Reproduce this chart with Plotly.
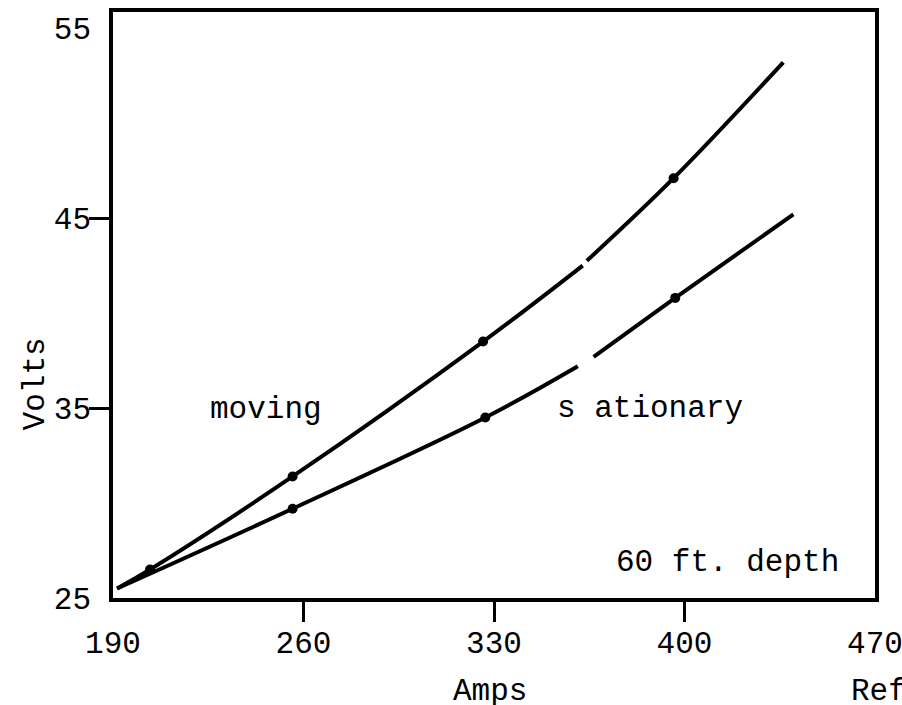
import plotly.graph_objects as go

# Arc voltage vs. current, 60 ft. depth
# (None marks a break in the drawn curve)
moving_amps = [191.5, 203.6, 256.0, 326.0, 362.6, None, 364.1, 396.0, 436.3]
moving_volts = [25.5, 26.5, 31.4, 38.5, 42.5, None, 42.75, 47.1, 53.2]

stationary_amps = [191.5, 256.0, 326.8, 360.8, None, 366.6, 396.6, 440.0]
stationary_volts = [25.5, 29.7, 34.5, 37.2, None, 37.7, 40.8, 45.2]

# measured points marked with dots
moving_pts_amps = [203.6, 256.0, 326.0, 396.0]
moving_pts_volts = [26.5, 31.4, 38.5, 47.1]
stationary_pts_amps = [256.0, 326.8, 396.6]
stationary_pts_volts = [29.7, 34.5, 40.8]

x_ticks = [190, 260, 330, 400, 470]
y_ticks = [25, 35, 45, 55]
x_inner_ticks = [260, 330, 400]
y_inner_ticks = [35, 45]

X_RANGE = [190, 470]
Y_RANGE = [25, 55.85]

FONT = "Liberation Mono"
FS = 31
INK = "black"

fig = go.Figure()

for xs, ys in [(moving_amps, moving_volts), (stationary_amps, stationary_volts)]:
    fig.add_trace(go.Scatter(
        x=xs, y=ys, mode="lines",
        line=dict(color=INK, width=4, shape="spline", smoothing=1.0),
        connectgaps=False, showlegend=False, hoverinfo="skip",
    ))

for xs, ys in [(moving_pts_amps, moving_pts_volts), (stationary_pts_amps, stationary_pts_volts)]:
    fig.add_trace(go.Scatter(
        x=xs, y=ys, mode="markers",
        marker=dict(color=INK, size=10),
        showlegend=False,
    ))

fig.update_layout(
    width=902, height=705,
    margin=dict(l=113, r=27, t=12, b=107),
    paper_bgcolor="white", plot_bgcolor="white",
    font=dict(family=FONT, size=FS, color=INK),
    xaxis=dict(
        range=X_RANGE, tickvals=x_ticks, ticktext=[str(v) for v in x_ticks],
        ticks="", showgrid=False, zeroline=False, automargin=False,
        showline=True, mirror=True, linecolor=INK, linewidth=3.5,
        ticklabelstandoff=14, ticklabeloverflow="allow",
        tickfont=dict(family=FONT, size=FS, color=INK),
    ),
    yaxis=dict(
        range=Y_RANGE, tickvals=y_ticks, ticktext=[str(v) for v in y_ticks],
        ticks="", showgrid=False, zeroline=False, automargin=False,
        showline=True, mirror=True, linecolor=INK, linewidth=3.5,
        ticklabelstandoff=12, ticklabeloverflow="allow",
        tickfont=dict(family=FONT, size=FS, color=INK),
    ),
    # tick marks only at the interior values
    xaxis2=dict(
        overlaying="x", anchor="y", side="bottom", range=X_RANGE,
        tickvals=x_inner_ticks, ticks="outside", ticklen=23, tickwidth=3,
        tickcolor=INK, showticklabels=False, showgrid=False, zeroline=False,
        showline=False, automargin=False,
    ),
    yaxis2=dict(
        overlaying="y", anchor="x", side="left", range=Y_RANGE,
        tickvals=y_inner_ticks, ticks="outside", ticklen=23, tickwidth=3,
        tickcolor=INK, showticklabels=False, showgrid=False, zeroline=False,
        showline=False, automargin=False,
    ),
)

# invisible anchor trace so the overlay axes are drawn
fig.add_trace(go.Scatter(x=[None], y=[None], xaxis="x2", yaxis="y2",
                         showlegend=False, hoverinfo="skip"))

text_style = dict(showarrow=False, font=dict(family=FONT, size=FS, color=INK))
fig.add_annotation(x=246.2, y=34.95, text="moving", **text_style)
fig.add_annotation(x=387.4, y=35.0, text="s ationary", **text_style)
fig.add_annotation(x=415.7, y=26.85, text="60 ft. depth", **text_style)

fig.add_annotation(xref="paper", yref="paper", x=-0.102, y=0.365,
                   xanchor="center", yanchor="middle",
                   text="Volts", textangle=-90, **text_style)
fig.add_annotation(xref="paper", yref="paper", x=0.495, y=-0.16,
                   xanchor="center", yanchor="middle",
                   text="Amps", **text_style)
fig.add_annotation(xref="paper", yref="paper", x=0.966, y=-0.16,
                   xanchor="left", yanchor="middle",
                   text="Reference", **text_style)

fig.write_html("out.html")
